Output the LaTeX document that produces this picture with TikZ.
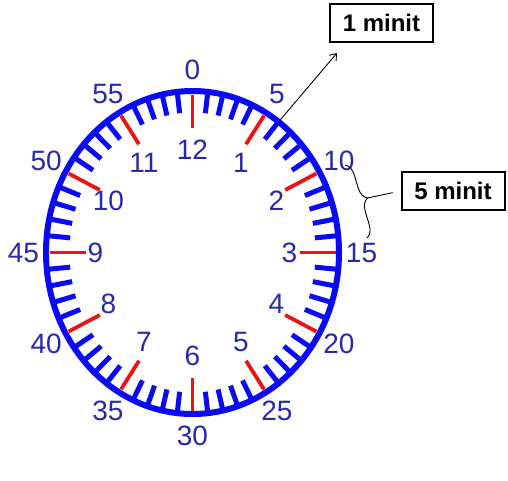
\documentclass[tikz,border=0pt]{standalone}
\usepackage{fontspec}
\setmainfont{Liberation Sans}
\usepackage{tikz}
\usetikzlibrary{arrows.meta, positioning, calc, decorations.pathreplacing}
\definecolor{ringblue}{RGB}{10,10,245}
\definecolor{numblue}{RGB}{40,40,170}
\definecolor{hourred}{RGB}{235,20,20}
\tikzstyle{minnum} = [text=numblue,
font=\fontsize{28}{28}\selectfont,
inner sep=0pt]
\tikzstyle{hournum} = [minnum]
\tikzstyle{tickmin} = [draw=ringblue, line width=5pt]
\tikzstyle{tickhour} = [draw=hourred, line width=3.8pt]
\tikzstyle{notebox} = [rectangle,
minimum width=103pt,
minimum height=38pt,
text centered,
draw=black, line width=2pt,
font=\bfseries\fontsize{24}{24}\selectfont]
\tikzstyle{pointer} = [line width=0.9pt,-{Straight Barb[length=6pt,width=9pt]}]

\begin{document}
\begin{tikzpicture}[x=1pt, y=-1pt]
                \useasboundingbox (0,0) rectangle (508,480);
                \coordinate (c) at (192.5,252.5);

                % minute and hour ticks
                \foreach \i in {0,...,59}{
                    \pgfmathsetmacro{\s}{sin(6*\i)}
                    \pgfmathsetmacro{\co}{cos(6*\i)}
                    \pgfmathtruncatemacro{\r}{mod(\i,5)}
                    \ifnum\r=0
                        \draw [tickhour] ($(c)+({143*\s},{-158*\co})$) -- ($(c)+({107*\s},{-125*\co})$);
                    \else
                        \draw [tickmin] ($(c)+({149*\s},{-164*\co})$) -- ($(c)+({123*\s},{-140*\co})$);
                    \fi
                }
                \draw [ringblue, line width=6pt] (c) ellipse [x radius=146.5, y radius=161.5];

                % numbers
                \foreach \m in {0,5,...,55}
                    \node (m\m) [minnum] at ($(c)+({169*sin(6*\m)},{-183*cos(6*\m)})$) {\m};
                \foreach \h in {1,...,12}
                    \node (h\h) [hournum] at ($(c)+({97*sin(30*\h)},{-103*cos(30*\h)})$) {\h};

                \node (one) [notebox] at (381.5,23) {1 minit};
                \node (five) [notebox] at (453,191) {5 minit};

                \coordinate (tick) at ($(c)+({146.5*sin(36)},{-161.5*cos(36)})$);
                \coordinate (tip) at ($(one.south west)+(8,10)$);
                \draw [pointer] (tick) -- (tip);

                \coordinate (btop) at (345,165);
                \coordinate (bbot) at (367,238);
                \coordinate (bmid) at ($(btop)!0.5!(bbot)+(11.5,-3.5)$);
                \draw [line width=0.9pt, decorate, decoration={brace, amplitude=12pt}] (btop) -- (bbot);
                \draw [line width=0.9pt, shorten >=8pt] (bmid) -- (five.west);
            \end{tikzpicture}
\end{document}
